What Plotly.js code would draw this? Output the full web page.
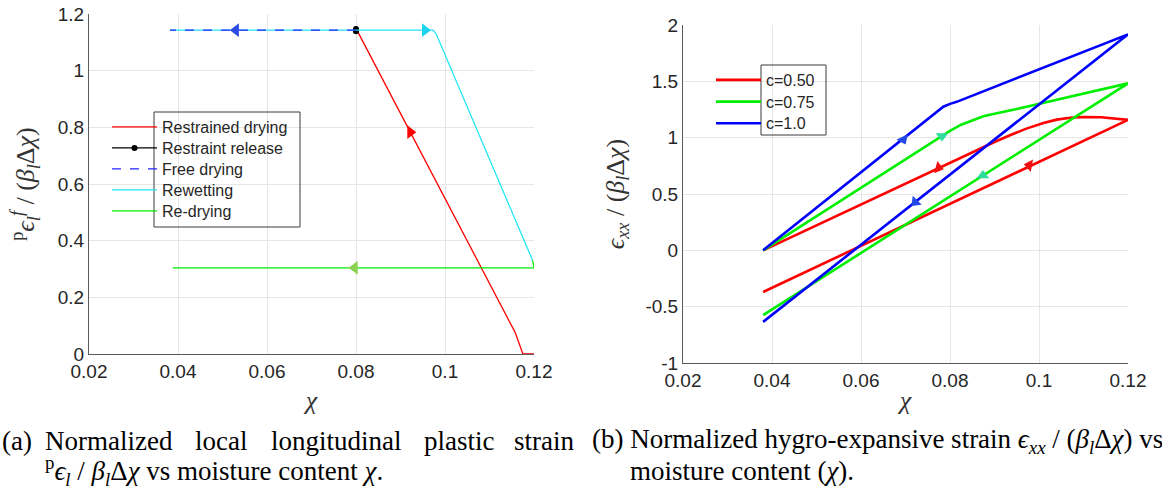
<!DOCTYPE html>
<html><head><meta charset="utf-8">
<script src="https://cdn.plot.ly/plotly-3.0.1.min.js"></script>
<style>html,body{margin:0;padding:0;background:#fff}#chart{width:1162px;height:495px}</style>
</head><body><div id="chart"></div><script>
// ---------- Panel (a): plastic strain vs moisture content ----------
const restrainedX = [0.1200, 0.1175, 0.1166, 0.1158, 0.0802];
const restrainedY = [0.000, 0.000, 0.040, 0.075, 1.143];
const releaseX = [0.0800, 0.0800, 0.0800];
const releaseY = [1.139, 1.143, 1.147];
const freeX = [0.0800, 0.0382];
const freeY = [1.143, 1.143];
const rewetX = [0.0382, 0.0973, 0.0980, 0.1197];
const rewetY = [1.143, 1.143, 1.130, 0.330];
const redryX = [0.1197, 0.1200, 0.0388];
const redryY = [0.330, 0.304, 0.304];
// arrow heads (tip positions)
const arrowAX = [0.0922, 0.0530, 0.0955, 0.0797];
const arrowAY = [0.783, 1.143, 1.143, 0.304];
const xTicksA = [0.02, 0.04, 0.06, 0.08, 0.1, 0.12];
const xTickTextA = ['0.02', '0.04', '0.06', '0.08', '0.1', '0.12'];
const yTicksA = [0, 0.2, 0.4, 0.6, 0.8, 1, 1.2];
const yTickTextA = ['0', '0.2', '0.4', '0.6', '0.8', '1', '1.2'];

// ---------- Panel (b): hygro-expansive strain vs moisture content ----------
const c050X = [0.038, 0.085, 0.090, 0.094, 0.097, 0.101, 0.104, 0.107, 0.110, 0.114, 0.117, 0.120, 0.038];
const c050Y = [0.000, 0.874, 0.962, 1.030, 1.078, 1.130, 1.160, 1.177, 1.184, 1.181, 1.172, 1.158, -0.370];
const c075X = [0.038, 0.0800, 0.0825, 0.0850, 0.0875, 0.0900, 0.0950, 0.120, 0.038];
const c075Y = [0.000, 1.060, 1.115, 1.155, 1.190, 1.213, 1.255, 1.482, -0.575];
const c100X = [0.038, 0.0785, 0.0800, 0.0815, 0.120, 0.038];
const c100Y = [0.000, 1.275, 1.300, 1.318, 1.917, -0.635];
// arrow heads (tip positions): [wetting branch, drying branch]
const arrC050X = [0.0774, 0.0978];
const arrC050Y = [0.733, 0.756];
const arrC075X = [0.0782, 0.0874];
const arrC075Y = [1.014, 0.664];
const arrC100X = [0.0695, 0.0722];
const arrC100Y = [0.984, 0.427];
const xTicksB = [0.02, 0.04, 0.06, 0.08, 0.1, 0.12];
const xTickTextB = ['0.02', '0.04', '0.06', '0.08', '0.1', '0.12'];
const yTicksB = [-1, -0.5, 0, 0.5, 1, 1.5, 2];
const yTickTextB = ['-1', '-0.5', '0', '0.5', '1', '1.5', '2'];

const W = 1162, H = 495;
const SANS = 'Liberation Sans, Arial, Helvetica, sans-serif';
const SERIF = 'Liberation Serif, Times New Roman, DejaVu Serif, serif';

function arrows(x, y, colors, symbols, angles, xa, ya, sz) {
  return {x: x, y: y, xaxis: xa, yaxis: ya, mode: 'markers', showlegend: false, hoverinfo: 'skip',
    marker: {symbol: symbols, angle: angles, size: sz, color: colors, line: {width: 0}}};
}

const traces = [
  {name: 'Restrained drying', x: restrainedX, y: restrainedY, mode: 'lines', line: {color: '#ff0000', width: 1.3}, xaxis: 'x', yaxis: 'y', legend: 'legend'},
  {name: 'Restraint release', x: releaseX, y: releaseY, mode: 'lines+markers', line: {color: '#000000', width: 1.3}, marker: {size: 6, color: '#000000'}, xaxis: 'x', yaxis: 'y', legend: 'legend2'},
  {name: 'Rewetting', x: rewetX, y: rewetY, mode: 'lines', line: {color: '#22e6f5', width: 1.3}, xaxis: 'x', yaxis: 'y', legend: 'legend4'},
  {name: 'Free drying', x: freeX, y: freeY, mode: 'lines', line: {color: '#2424ff', width: 1.3, dash: 'dash'}, xaxis: 'x', yaxis: 'y', legend: 'legend3'},
  {name: 'Re-drying', x: redryX, y: redryY, mode: 'lines', line: {color: '#00ee00', width: 1.3}, xaxis: 'x', yaxis: 'y', legend: 'legend5'},
  arrows(arrowAX, arrowAY, ['#ff0000', '#2b4ce0', '#1ed3ef', '#8bd150'],
    ['triangle-right', 'triangle-left', 'triangle-right', 'triangle-left'], [0, 0, 0, 0], 'x', 'y', 12),
  {name: 'c=0.50', x: c050X, y: c050Y, mode: 'lines', line: {color: '#ff0000', width: 2.6}, xaxis: 'x2', yaxis: 'y2', legend: 'legend6'},
  {name: 'c=0.75', x: c075X, y: c075Y, mode: 'lines', line: {color: '#00ee00', width: 2.6}, xaxis: 'x2', yaxis: 'y2', legend: 'legend7'},
  {name: 'c=1.0', x: c100X, y: c100Y, mode: 'lines', line: {color: '#0000ff', width: 2.6}, xaxis: 'x2', yaxis: 'y2', legend: 'legend8'},
  arrows(arrC050X, arrC050Y, '#f01010', ['triangle-right', 'triangle-left'], [15, 10], 'x2', 'y2', 11),
  arrows(arrC075X, arrC075Y, '#2edc9c', ['triangle-down', 'triangle-up'], [0, 0], 'x2', 'y2', 11),
  arrows(arrC100X, arrC100Y, '#2548e8', ['triangle-down', 'triangle-down'], [-25, 45], 'x2', 'y2', 11)
];

function axisCommon() {
  return {showgrid: true, gridcolor: '#e6e6e6', gridwidth: 1, showline: true, linecolor: '#5a5a5a', linewidth: 1,
    ticks: '', zeroline: false, tickfont: {family: SANS, size: 19, color: '#262626'}, automargin: false, fixedrange: true};
}
const titleFont = {family: SERIF, size: 26, color: '#333333'};

const layout = {
  width: W, height: H, margin: {l: 0, r: 0, t: 0, b: 0},
  paper_bgcolor: '#ffffff', plot_bgcolor: '#ffffff', showlegend: true,
  font: {family: SANS, color: '#262626'},
  xaxis: Object.assign(axisCommon(), {domain: [89 / W, 534 / W], range: [0.02, 0.12], anchor: 'y',
    tickvals: xTicksA, ticktext: xTickTextA, title: {text: '<i>χ</i>', font: titleFont, standoff: 10}}),
  yaxis: Object.assign(axisCommon(), {domain: [1 - 354 / H, 1 - 14 / H], range: [0, 1.2], anchor: 'x',
    tickvals: yTicksA, ticktext: yTickTextA,
    title: {text: '<sup>p</sup><i>ϵ</i><sub><i>l</i></sub><sup><i>f</i></sup> / (<i>β</i><sub><i>l</i></sub>Δ<i>χ</i>)', font: titleFont, standoff: 15}}),
  xaxis2: Object.assign(axisCommon(), {domain: [683 / W, 1128 / W], range: [0.02, 0.12], anchor: 'y2',
    tickvals: xTicksB, ticktext: xTickTextB, title: {text: '<i>χ</i>', font: titleFont, standoff: 1}}),
  yaxis2: Object.assign(axisCommon(), {domain: [1 - 363 / H, 1 - 25 / H], range: [-1, 2], anchor: 'x2',
    tickvals: yTicksB, ticktext: yTickTextB,
    title: {text: '<i>ϵ</i><sub><i>xx</i></sub> / (<i>β</i><sub><i>l</i></sub>Δ<i>χ</i>)', font: titleFont, standoff: 13}}),
  shapes: [
    {type: 'rect', xref: 'paper', yref: 'paper', x0: 154 / W, x1: 300 / W, y0: 1 - 227 / H, y1: 1 - 112 / H, line: {color: '#3a3a3a', width: 1}, fillcolor: 'rgba(0,0,0,0)', layer: 'above'},
    {type: 'rect', xref: 'paper', yref: 'paper', x0: 761 / W, x1: 826 / W, y0: 1 - 135 / H, y1: 1 - 65 / H, line: {color: '#3a3a3a', width: 1}, fillcolor: 'rgba(0,0,0,0)', layer: 'above'}
  ],
  annotations: []
};

// one legend box per entry so the row spacing matches the reference
function legendBox(left, rowCenter, itemwidth) {
  return {x: left / W, y: 1 - (rowCenter - 17) / H, xanchor: 'left', yanchor: 'top', bgcolor: 'rgba(0,0,0,0)', borderwidth: 0,
    font: {family: SANS, size: 16, color: '#262626'}, itemwidth: itemwidth};
}
const leftRows = [127, 148, 169, 190, 211];
['legend', 'legend2', 'legend3', 'legend4', 'legend5'].forEach((k, i) => { layout[k] = legendBox(107, leftRows[i], 45); });
const rightRows = [80, 101.7, 123.3];
['legend6', 'legend7', 'legend8'].forEach((k, i) => { layout[k] = legendBox(711, rightRows[i], 45); });

const capFont = {family: SERIF, size: 27, color: '#000000'};
function cap(text, x, y, anchor) {
  return {text: text, xref: 'paper', yref: 'paper', x: x / W, y: 1 - y / H, xanchor: anchor || 'left', yanchor: 'middle', showarrow: false, font: capFont};
}
layout.annotations.push(
  cap('(a)', 0, 441),
  cap('Normalized', 43, 441),
  cap('local', 193, 441),
  cap('longitudinal', 269, 441),
  cap('plastic', 422, 441),
  cap('strain', 576, 441, 'right'),
  cap('<sup>p</sup><i>ϵ</i><sub><i>l</i></sub> / <i>β</i><sub><i>l</i></sub>Δ<i>χ</i> vs moisture content <i>χ</i>.', 43, 471),
  cap('(b) Normalized hygro-expansive strain <i>ϵ</i><sub><i>xx</i></sub> / (<i>β</i><sub><i>l</i></sub>Δ<i>χ</i>) vs', 590, 441),
  cap('moisture content (<i>χ</i>).', 628, 471)
);

Plotly.newPlot('chart', traces, layout, {displayModeBar: false, staticPlot: true});
</script></body></html>
